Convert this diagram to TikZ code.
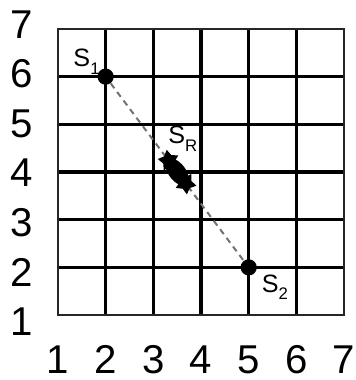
\documentclass[tikz,border=0pt]{standalone}
\usepackage{fontspec}
\setmainfont{Liberation Sans}
\usetikzlibrary{positioning,shapes.geometric}
\newcommand{\lowidx}[1]{\raisebox{-0.3em}{\fontsize{10}{10}\selectfont #1}}

\begin{document}
\begin{tikzpicture}[
  gridline/.style={line width=1.9pt, draw=black},
  frameline/.style={line width=1.1pt, draw=black!85},
  axislabel/.style={inner sep=0pt, font=\fontsize{24}{24}\selectfont},
  spot/.style={circle, fill=black, inner sep=0pt, minimum size=0.34cm},
  sname/.style={inner sep=0pt, font=\fontsize{15}{15}\selectfont},
  link/.style={dash pattern=on 3.6pt off 2.8pt, line width=1.2pt, draw=black!55},
  blob/.style={ellipse, fill=black, inner sep=0pt, minimum width=0.66cm, minimum height=0.36cm, rotate=-53},
  starmark/.style={star, star points=5, star point ratio=1.8, fill=black, inner sep=0pt, minimum size=0.46cm}
]
\useasboundingbox (-0.215,-0.361) rectangle (7.241,7.607);
% grid
\foreach \k in {2,...,6} {
  \draw[gridline] (\k,1) -- (\k,7);
  \draw[gridline] (1,\k) -- (7,\k);
}
\draw[frameline] (1,1) rectangle (7,7);
% axis numbers
\foreach \k in {1,...,7} {
  \node[axislabel] (xl\k) at (\k,0.06) {\k};
  \node[axislabel] (yl\k) at (0.23,{0.86+1.04*(\k-1)}) {\k};
}
% sources and the point between them
\node[spot] (s1) at (2,6) {};
\node[spot] (s2) at (5,2) {};
\draw[link] (s1) -- (s2);
\node[blob] (sr) at (3.5,4) {};
\node[starmark, rotate=10] (sra) at (3.32,4.24) {};
\node[starmark, rotate=-30] (srb) at (3.68,3.76) {};
\node[sname, above left=0.04cm and 0.12cm of s1.center] (s1lab) {S\lowidx{1}};
\node[sname, below right=0.15cm and 0.27cm of s2.center] (s2lab) {S\lowidx{2}};
\node[sname] (srlab) at (3.62,4.70) {S\lowidx{R}};
\end{tikzpicture}
\end{document}
